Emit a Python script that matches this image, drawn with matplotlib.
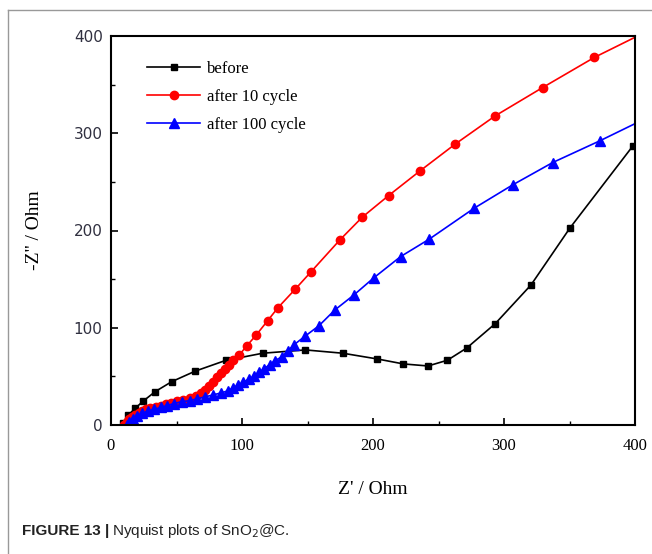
import matplotlib
matplotlib.use("Agg")
import matplotlib.pyplot as plt
from matplotlib.ticker import MultipleLocator
from matplotlib.lines import Line2D

# ---- data ----
before_x = [9, 13.3, 18.4, 24.7, 33.7, 46.4, 64.3, 87.5, 115.8, 148.4, 177, 203.3,
            223.2, 242, 256.8, 271.6, 293.3, 320.6, 350.4, 398.4]
before_y = [2, 10.3, 17.1, 24.7, 34.3, 44.6, 55.4, 66.4, 73.8, 77.2, 73.8, 67.9,
            62.8, 60.7, 66.6, 79.2, 104.2, 144, 202.7, 287]

c10_x = [10, 12, 14, 16, 18, 21, 24, 27, 30, 34, 38, 42, 46, 50, 55, 60, 65, 69, 72,
         75, 78, 81, 84, 87, 90, 93, 97.9, 103.8, 110.9, 119.6, 127.5, 140.8, 152.8,
         174.7, 191.8, 211.9, 235.9, 262.7, 293.3, 329.5, 369, 420]
c10_y = [0, 3, 6, 8, 10, 12, 14, 16, 17, 19, 20, 22, 23, 25, 26, 28, 30, 33, 36,
         40, 44, 49, 53, 58, 62, 67, 72, 81.6, 92.6, 107.3, 120.7, 139.9, 157.7,
         190.3, 213.7, 235.9, 261.3, 288.8, 317.9, 347, 378, 412]

c100_x = [12, 14, 17, 20, 24, 28, 33, 38, 43, 48, 54, 60, 66, 72, 78, 84, 89, 93, 97,
          101, 105, 109, 113, 117, 121, 125, 130.6, 135, 139.5, 148.4, 158.6, 170.9,
          185.4, 200.5, 221.1, 242.8, 277.2, 306.6, 337.2, 373.6, 420]
c100_y = [0, 3, 6, 9, 12, 14, 16, 18, 20, 22, 24, 25, 27, 29, 31, 33, 35, 38, 41,
          44, 47, 50, 54, 58, 62, 66, 70.3, 76, 82.3, 91.6, 101.9, 118.3,
          133.7, 151.2, 173.2, 191, 222.9, 246.9, 269.9, 292.5, 323]

labels = ["before", "after 10 cycle", "after 100 cycle"]
x_ticks = [0, 100, 200, 300, 400]
y_ticks = [0, 100, 200, 300, 400]

fig = plt.figure(figsize=(6.52, 5.54), dpi=100)
ax = fig.add_axes([111/652, 1-425/554, (635-111)/652, (425-36)/554])

ax.plot(before_x, before_y, color="black", lw=1.2, marker="s", ms=5, label=labels[0])
ax.plot(c10_x, c10_y, color="red", lw=1.2, marker="o", ms=6, label=labels[1])
ax.plot(c100_x, c100_y, color="blue", lw=1.2, marker="^", ms=7, label=labels[2])

ax.set_xlim(0, 400)
ax.set_ylim(0, 400)
ax.set_xticks(x_ticks)
ax.set_yticks(y_ticks)
ax.xaxis.set_minor_locator(MultipleLocator(50))
ax.yaxis.set_minor_locator(MultipleLocator(50))
ax.tick_params(which="major", direction="in", length=5, width=1.2, top=False, right=False)
ax.tick_params(which="minor", direction="in", length=3, width=1.0, top=False, right=False)
for sp in ax.spines.values():
    sp.set_linewidth(1.5)

for t in ax.get_xticklabels():
    t.set_fontfamily("Liberation Serif")
    t.set_fontsize(12)
for t in ax.get_yticklabels():
    t.set_fontfamily("DejaVu Sans")
    t.set_fontsize(11)
    t.set_color("#303040")
ax.tick_params(axis="x", pad=9)
ax.tick_params(axis="y", pad=6)

ax.set_xlabel("Z' / Ohm", fontfamily="Liberation Serif", fontsize=14, labelpad=20)
ax.set_ylabel("-Z'' / Ohm", fontfamily="Liberation Serif", fontsize=14, labelpad=22)

leg = ax.legend(loc="upper left", bbox_to_anchor=(0.04, 0.975), frameon=False,
                handlelength=3.2, labelspacing=0.72, handletextpad=0.4,
                prop={"family": "Liberation Serif", "size": 12})

# outer caption frame lines
fig.add_artist(Line2D([8/652, 8/652], [0, 1-10/554], color="#999999", lw=1.0))
fig.add_artist(Line2D([8/652, 1], [1-10/554, 1-10/554], color="#999999", lw=1.0))

fig.text(22/652, 1-531/554, "FIGURE 13 |", fontfamily="Liberation Sans",
         fontweight="bold", fontsize=11, va="center", ha="left", color="#222222")
fig.text(112/652, 1-531/554, r"Nyquist plots of SnO$_2$@C.", fontfamily="Liberation Sans",
         fontsize=11, va="center", ha="left", color="#222222")

fig.savefig("out.png", dpi=100)
